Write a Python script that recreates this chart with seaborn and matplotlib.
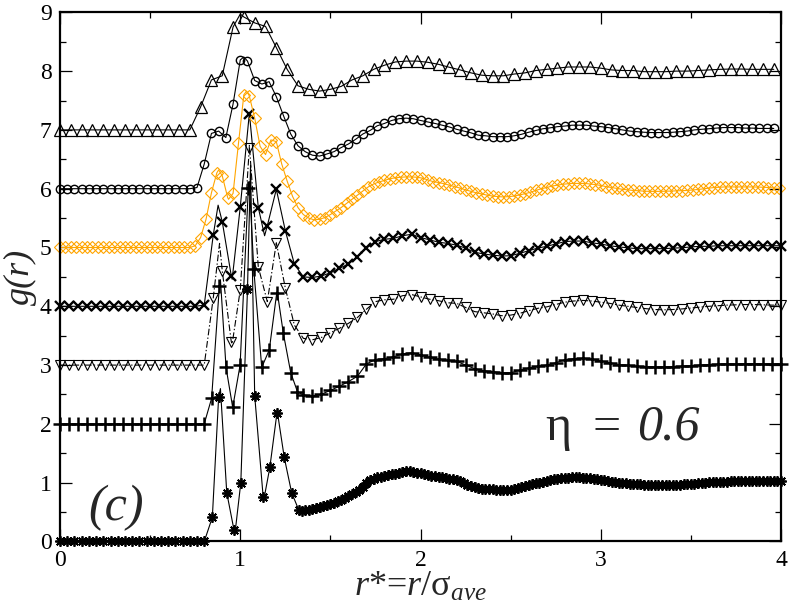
import numpy as np
import pandas as pd
import matplotlib
matplotlib.use('Agg')
import matplotlib.pyplot as plt
from matplotlib.ticker import MultipleLocator
import seaborn as sns

# ---------------------------------------------------------------------------
# data: g(r) (curves shifted upward by an offset)
# ---------------------------------------------------------------------------

# triangles up, offset 7, grid step 0.06
tri_up_step = 0.06
tri_up_g = [0, 0, 0, 0, 0, 0, 0, 0, 0, 0, 0, 0, 0,
            0.39, 0.85, 0.92, 1.75, 1.92, 1.82, 1.76, 1.40, 1.03, 0.75,
            0.69, 0.66, 0.69, 0.74, 0.85, 0.92, 1.03, 1.10, 1.155, 1.17,
            1.17, 1.15, 1.115, 1.065, 1.02, 0.97, 0.93, 0.92, 0.92, 0.95,
            0.97, 1.01, 1.03, 1.05, 1.07, 1.07, 1.07, 1.05, 1.02, 1.01,
            1.01, 0.99, 0.99, 0.99, 1.00, 1.00, 1.01, 1.02, 1.03, 1.035,
            1.035, 1.03, 1.03, 1.03]
tri_up_pk_r = [1.0]
tri_up_pk_g = [1.97]

# circles, offset 6, grid step 0.04
circ_step = 0.04
circ_g = [0, 0, 0, 0, 0, 0, 0, 0, 0, 0, 0, 0, 0, 0, 0, 0, 0, 0, 0,
          0.02, 0.42, 0.94, 0.98, 0.87, 1.44, 2.19, 2.17, 1.84, 1.78,
          1.82, 1.565, 1.24, 0.93, 0.73, 0.63, 0.57, 0.555, 0.59, 0.63,
          0.70, 0.76, 0.84, 0.93, 0.99, 1.07, 1.11, 1.16, 1.19, 1.20,
          1.19, 1.16, 1.135, 1.11, 1.08, 1.05, 1.01, 0.98, 0.95, 0.91,
          0.90, 0.885, 0.885, 0.885, 0.90, 0.925, 0.96, 0.99, 1.02, 1.035,
          1.055, 1.065, 1.08, 1.08, 1.08, 1.065, 1.055, 1.04, 1.02, 1.00,
          0.98, 0.97, 0.96, 0.955, 0.955, 0.955, 0.96, 0.97, 0.98, 1.00,
          1.01, 1.02, 1.03, 1.04, 1.04, 1.04, 1.03, 1.03, 1.025, 1.025,
          1.025]
circ_pk_r = [1.02]
circ_pk_g = [2.24]

# diamonds (orange), offset 5, grid step 0.03
dia_step = 0.03
dia_g = [0, 0, 0, 0, 0, 0, 0, 0, 0, 0, 0, 0, 0, 0, 0, 0, 0, 0, 0, 0,
         0, 0, 0, 0, 0,
         0.03, 0.17, 0.48, 0.93, 1.27, 1.22, 0.85, 0.92, 1.77, 2.60,
         2.58, 2.20, 1.72, 1.58, 1.83, 1.80, 1.42, 1.13, 0.87, 0.68,
         0.56, 0.50, 0.47, 0.48, 0.51, 0.56, 0.62, 0.68, 0.75, 0.82,
         0.89, 0.96, 1.03, 1.08, 1.115, 1.14, 1.17, 1.185, 1.195, 1.20,
         1.20, 1.195, 1.18, 1.15, 1.12, 1.105, 1.085, 1.06, 1.035, 1.01,
         0.98, 0.955, 0.93, 0.91, 0.89, 0.875, 0.865, 0.86, 0.865, 0.875,
         0.895, 0.915, 0.94, 0.97, 1.00, 1.02, 1.045, 1.06, 1.075, 1.085,
         1.09, 1.09, 1.09, 1.08, 1.07, 1.055, 1.035, 1.02, 1.005, 0.99,
         0.98, 0.97, 0.965, 0.958, 0.955, 0.955, 0.955, 0.957, 0.96, 0.963,
         0.967, 0.97, 0.978, 0.987, 0.997, 1.01, 1.02, 1.025, 1.03, 1.03,
         1.03, 1.03, 1.03, 1.03, 1.028, 1.025, 1.02, 1.012, 1.005]
dia_pk_r = [0.88, 0.935, 1.035]
dia_pk_g = [1.32, 0.82, 2.66]

# crosses, offset 4, grid step 0.05
crs_step = 0.05
crs_g = [0, 0, 0, 0, 0, 0, 0, 0, 0, 0, 0, 0, 0, 0, 0, 0, 0.02,
         1.21, 1.44, 0.52, 1.69, 3.27, 1.68, 1.37, 1.99, 1.285, 0.72,
         0.50, 0.49, 0.515, 0.57, 0.645, 0.72, 0.84, 0.99, 1.10, 1.14,
         1.155, 1.20, 1.225, 1.17, 1.13, 1.09, 1.07, 1.04, 0.99, 0.92,
         0.89, 0.87, 0.855, 0.86, 0.90, 0.945, 0.99, 1.02, 1.06, 1.10,
         1.11, 1.11, 1.08, 1.06, 1.03, 1.01, 0.995, 0.98, 0.98, 0.98,
         0.98, 0.99, 0.995, 1.01, 1.02, 1.02, 1.03, 1.03, 1.03, 1.03,
         1.03, 1.03, 1.03, 1.03]
crs_pk_r = [0.877, 0.955, 1.05, 1.135]
crs_pk_g = [1.72, 0.46, 3.30, 1.20]

# triangles down (dash-dot line), offset 3, grid step 0.05
tri_dn_step = 0.05
tri_dn_g = [0, 0, 0, 0, 0, 0, 0, 0, 0, 0, 0, 0, 0, 0, 0, 0, 0,
            1.14, 1.605, 0.40, 1.28, 3.69, 1.67, 1.08, 2.08, 1.31, 0.68,
            0.455, 0.43, 0.47, 0.55, 0.625, 0.71, 0.81, 0.95, 1.08, 1.11,
            1.12, 1.18, 1.20, 1.16, 1.12, 1.095, 1.06, 1.05, 0.98, 0.91,
            0.89, 0.87, 0.84, 0.85, 0.88, 0.925, 0.965, 0.99, 1.03, 1.07,
            1.09, 1.10, 1.09, 1.07, 1.05, 1.02, 1.00, 0.98, 0.96, 0.945,
            0.94, 0.945, 0.955, 0.97, 0.985, 1.00, 1.01, 1.02, 1.025, 1.03,
            1.03, 1.025, 1.02, 1.02]
tri_dn_pk_r = [0.885, 0.955, 1.05]
tri_dn_pk_g = [2.07, 0.36, 3.75]

# pluses, offset 2: flat part (step 0.05), first shell, tail (step 0.05)
pls_flat_step = 0.05
pls_flat_g = [0, 0, 0, 0, 0, 0, 0, 0, 0, 0, 0, 0, 0, 0, 0, 0, 0]
pls_core_r = [0.841, 0.884, 0.921, 0.958, 0.999, 1.045, 1.075, 1.119,
              1.161, 1.202, 1.239, 1.28, 1.317]
pls_core_g = [0.435, 2.34, 0.96, 0.28, 1.00, 4.02, 2.63, 0.96,
              1.26, 2.22, 1.54, 0.87, 0.55]
pls_tail_r0 = 1.35
pls_tail_step = 0.05
pls_tail_g = [0.49, 0.475, 0.505, 0.57, 0.64, 0.72, 0.81, 1.02, 1.095, 1.11,
              1.14, 1.19, 1.21, 1.175, 1.13, 1.10, 1.08, 1.065, 1.00, 0.94,
              0.905, 0.89, 0.87, 0.87, 0.91, 0.95, 0.98, 1.00, 1.04, 1.09,
              1.11, 1.115, 1.10, 1.07, 1.04, 1.01, 0.995, 0.98, 0.975, 0.97,
              0.97, 0.975, 0.98, 0.99, 1.00, 1.01, 1.015, 1.02, 1.02, 1.025,
              1.025, 1.02, 1.02, 1.02]
pls_pk_r = [0.89, 1.05, 1.205]
pls_pk_g = [2.45, 4.12, 2.25]

# asterisks, offset 0: flat part (step 0.04), first shell, tail (step 0.02)
ast_flat_step = 0.04
ast_flat_g = [0, 0, 0, 0, 0, 0, 0, 0, 0, 0, 0, 0, 0, 0, 0, 0, 0, 0, 0, 0, 0]
ast_core_r = [0.845, 0.88, 0.925, 0.966, 1.003, 1.04, 1.08, 1.127,
              1.164, 1.203, 1.244, 1.285, 1.324]
ast_core_g = [0.41, 2.46, 0.83, 0.19, 1.00, 4.29, 2.48, 0.76,
              1.26, 2.18, 1.43, 0.83, 0.54]
ast_tail_r0 = 1.34
ast_tail_step = 0.02
ast_tail_g = [0.52, 0.53, 0.54, 0.56, 0.57, 0.59, 0.60, 0.62, 0.64, 0.66,
              0.69, 0.71, 0.74, 0.77, 0.80, 0.84, 0.88, 0.93, 0.99, 1.04,
              1.07, 1.09, 1.10, 1.12, 1.13, 1.14, 1.15, 1.17, 1.19, 1.20,
              1.20, 1.19, 1.17, 1.16, 1.15, 1.13, 1.12, 1.11, 1.10, 1.09,
              1.08, 1.07, 1.06, 1.05, 1.03, 1.00, 0.96, 0.94, 0.92, 0.91,
              0.90, 0.90, 0.89, 0.89, 0.88, 0.88, 0.875, 0.875, 0.88, 0.89,
              0.91, 0.92, 0.94, 0.96, 0.97, 0.99, 1.00, 1.02, 1.035, 1.045,
              1.055, 1.065, 1.075, 1.08, 1.085, 1.09, 1.09, 1.09, 1.085, 1.08,
              1.075, 1.065, 1.055, 1.05, 1.04, 1.03, 1.02, 1.01, 1.00, 0.995,
              0.99, 0.985, 0.98, 0.975, 0.97, 0.965, 0.96, 0.96, 0.955, 0.955,
              0.955, 0.955, 0.96, 0.96, 0.965, 0.965, 0.97, 0.975, 0.98, 0.985,
              0.99, 0.995, 1.00, 1.005, 1.01, 1.01, 1.015, 1.02, 1.02, 1.025,
              1.025, 1.03, 1.03, 1.03, 1.03, 1.03, 1.03, 1.03, 1.03, 1.03,
              1.03, 1.03, 1.03, 1.03]
ast_pk_r = [0.89, 0.97, 1.057, 1.13, 1.205]
ast_pk_g = [2.60, 0.12, 6.40, 0.70, 2.22]

offsets = {'ast': 0, 'pls': 2, 'tri_dn': 3, 'crs': 4, 'dia': 5, 'circ': 6, 'tri_up': 7}

x_ticks = [0, 1, 2, 3, 4]
y_ticks = [0, 1, 2, 3, 4, 5, 6, 7, 8, 9]


def grid_r(step, g, r0=0.0):
    return np.round(r0 + np.arange(len(g)) * step, 4)


ast_r = np.concatenate([grid_r(ast_flat_step, ast_flat_g), ast_core_r,
                        grid_r(ast_tail_step, ast_tail_g, ast_tail_r0)])
ast_gg = np.concatenate([ast_flat_g, ast_core_g, ast_tail_g])
pls_r = np.concatenate([grid_r(pls_flat_step, pls_flat_g), pls_core_r,
                        grid_r(pls_tail_step, pls_tail_g, pls_tail_r0)])
pls_gg = np.concatenate([pls_flat_g, pls_core_g, pls_tail_g])

# ---------------------------------------------------------------------------
# style
# ---------------------------------------------------------------------------
sns.set_style('ticks')
plt.rcParams['font.family'] = ['Liberation Serif', 'DejaVu Serif']
plt.rcParams['mathtext.fontset'] = 'custom'
plt.rcParams['mathtext.rm'] = 'Liberation Serif'
plt.rcParams['mathtext.it'] = 'Liberation Serif:italic'

ORANGE = '#FFA500'

fig = plt.figure(figsize=(7.92, 6.12), dpi=100)
ax = fig.add_axes([0.0758, 0.1152, 0.9103, 0.8647])


def draw(r, g, pk_r, pk_g, off, line_kw, mk_kw):
    line_df = pd.DataFrame({'r': np.concatenate([r, pk_r]),
                            'g': np.concatenate([g, pk_g]) + off})
    sns.lineplot(data=line_df, x='r', y='g', estimator=None, errorbar=None,
                 sort=True, ax=ax, linewidth=0.8, **line_kw)
    mk_df = pd.DataFrame({'r': r, 'g': np.asarray(g, dtype=float) + off})
    sns.lineplot(data=mk_df, x='r', y='g', estimator=None, errorbar=None,
                 sort=False, ax=ax, linestyle='', clip_on=False, **mk_kw)


draw(ast_r, ast_gg, ast_pk_r, ast_pk_g, offsets['ast'],
     dict(color='k'),
     dict(color='k', marker=(8, 2, 0), markersize=7.5, markeredgewidth=1.3,
          markeredgecolor='k'))
draw(pls_r, pls_gg, pls_pk_r, pls_pk_g, offsets['pls'],
     dict(color='k'),
     dict(color='k', marker='+', markersize=10, markeredgewidth=1.8,
          markeredgecolor='k'))
draw(grid_r(tri_dn_step, tri_dn_g), tri_dn_g, tri_dn_pk_r, tri_dn_pk_g, offsets['tri_dn'],
     dict(color='k', linestyle=(0, (6, 2, 1.2, 2))),
     dict(color='k', marker='v', markersize=7, markeredgewidth=0.8,
          markerfacecolor='none', markeredgecolor='k'))
draw(grid_r(crs_step, crs_g), crs_g, crs_pk_r, crs_pk_g, offsets['crs'],
     dict(color='k'),
     dict(color='k', marker='x', markersize=7, markeredgewidth=1.7,
          markeredgecolor='k'))
draw(grid_r(dia_step, dia_g), dia_g, dia_pk_r, dia_pk_g, offsets['dia'],
     dict(color=ORANGE),
     dict(color=ORANGE, marker='D', markersize=6.5, markeredgewidth=0.8,
          markerfacecolor='none', markeredgecolor=ORANGE))
draw(grid_r(circ_step, circ_g), circ_g, circ_pk_r, circ_pk_g, offsets['circ'],
     dict(color='k'),
     dict(color='k', marker='o', markersize=6, markeredgewidth=1.0,
          markerfacecolor='none', markeredgecolor='k'))
draw(grid_r(tri_up_step, tri_up_g), tri_up_g, tri_up_pk_r, tri_up_pk_g, offsets['tri_up'],
     dict(color='k'),
     dict(color='k', marker='^', markersize=8.5, markeredgewidth=0.9,
          markerfacecolor='none', markeredgecolor='k'))

# ---------------------------------------------------------------------------
# axes
# ---------------------------------------------------------------------------
ax.set_xlim(0, 4)
ax.set_ylim(0, 9)
ax.set_xticks(x_ticks)
ax.set_yticks(y_ticks)
ax.xaxis.set_minor_locator(MultipleLocator(0.5))
ax.yaxis.set_minor_locator(MultipleLocator(0.5))
ax.tick_params(which='both', direction='in', top=True, right=True,
               width=0.9, colors='k', labelsize=17, pad=6)
ax.tick_params(which='major', length=8.5)
ax.tick_params(which='minor', length=4.3)
for sp in ax.spines.values():
    sp.set_linewidth(1.6)
    sp.set_color('k')

ax.set_xlabel(r'$r$*=$r$/$\mathrm{σ}_{ave}$', fontsize=26, labelpad=0)
ax.set_ylabel('g(r)', fontsize=26, fontstyle='italic', labelpad=2)

ax.text(2.69, 1.73, 'η', fontsize=36, ha='left', va='baseline')
ax.text(2.955, 1.73, '=', fontsize=36, ha='left', va='baseline')
ax.text(3.20, 1.73, '0.6', fontsize=36, fontstyle='italic', ha='left', va='baseline')
ax.text(0.155, 0.37, '(c)', fontsize=36, fontstyle='italic', ha='left', va='baseline')

fig.savefig('out.png', dpi=100)
